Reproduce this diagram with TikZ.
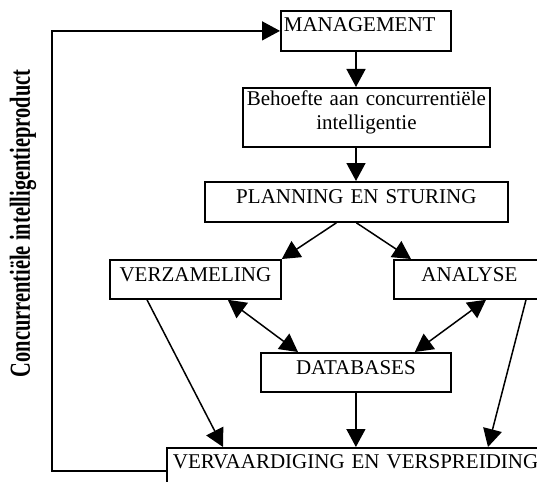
\documentclass[tikz,border=0pt]{standalone}
\usepackage{fontspec}
\setmainfont{Liberation Serif}
\usetikzlibrary{arrows.meta,calc}
\begin{document}
\begin{tikzpicture}[x=1pt,y=-1pt,
  box/.style={draw,line width=1.8pt,inner xsep=3pt,inner ysep=0pt,anchor=north west,
    font=\fontsize{21}{24}\selectfont},
  link/.style={line width=1.5pt,-{Triangle[length=18pt,width=19pt]}},
  twoway/.style={line width=1.5pt,{Triangle[length=18pt,width=19pt]}-{Triangle[length=18pt,width=19pt]}}]
\useasboundingbox (0,0) rectangle (537,481);
\clip (0,0) rectangle (537,481);

% process boxes
\node[box, text width=164pt, align=left, text height=21pt, text depth=19pt] (mgmt) at (280,10) {MANAGEMENT};
\node[box, text width=241pt, align=center, text height=18pt, text depth=41pt] (need) at (242,87)
  {Behoefte aan concurrentiële\\intelligentie};
\node[box, text width=297pt, align=center, text height=22pt, text depth=18pt] (plan) at (204,181) {PLANNING EN STURING};
\node[box, text width=165pt, align=center, text height=22pt, text depth=17pt] (verz) at (109,259) {VERZAMELING};
\node[box, text width=145pt, align=center, text height=22pt, text depth=17pt] (analyse) at (393,259) {ANALYSE};
\node[box, text width=184pt, align=center, text height=22pt, text depth=17pt] (db) at (260,352) {DATABASES};
\node[box, inner xsep=6pt, text width=388pt, align=left, text height=21pt, text depth=39pt] (verv) at (166,447)
  {VERVAARDIGING EN VERSPREIDING};

% label of the feedback loop
\node[rotate=90, inner sep=0pt] (product) at (23,223.5)
  {\scalebox{0.705}[1]{\fontsize{29}{32}\selectfont\bfseries Concurrentiële intelligentieproduct}};

% connectors
\coordinate (mid) at (356,0);
\draw[link] (mgmt.south -| mid) -- (need.north -| mid);
\draw[link] (need.south -| mid) -- (plan.north -| mid);
\draw[link] ($(plan.south)+(-20,0)$) -- (verz.north east);
\draw[link] (plan.south) -- ($(analyse.north west)+(18,0)$);
\draw[twoway] ($(verz.south east)+(-54,0)$) -- ($(db.north west)+(38,0)$);
\draw[twoway] ($(analyse.south west)+(93,0)$) -- ($(db.north east)+(-37,0)$);
\draw[link] ($(verz.south west)+(38,0)$) -- ($(verv.north west)+(57,0)$);
\draw[link] (db.south) -- (db.south |- verv.north);
\draw[link] ($(analyse.south west)+(133,0)$) -- ($(verv.north west)+(322,0)$);
\draw[link] ($(verv.north west)+(0,24)$) -- ++(-114,0) |- (mgmt.west);
\end{tikzpicture}
\end{document}
